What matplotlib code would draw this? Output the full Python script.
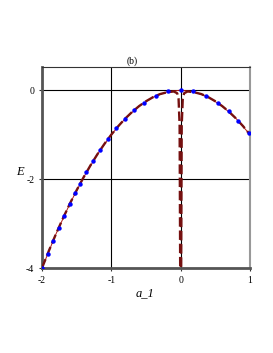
import matplotlib
matplotlib.use("Agg")
import matplotlib.pyplot as plt

# solid parabola (red)
solid_a = [-2.0, -1.8, -1.6, -1.4, -1.2, -1.0, -0.8, -0.6, -0.4, -0.2, 0.0,
           0.2, 0.4, 0.6, 0.8, 1.0]
solid_E = [-4.0, -3.24, -2.56, -1.96, -1.44, -1.0, -0.64, -0.36, -0.16, -0.04, 0.0,
           -0.04, -0.16, -0.36, -0.64, -1.0]

# dashed curve with the spike at a_1 = 0 (dark red)
dash_a = [-2.0, -1.9, -1.8, -1.7, -1.6, -1.5, -1.4, -1.3, -1.2, -1.1, -1.0,
          -0.9, -0.8, -0.7, -0.6, -0.5, -0.4, -0.3, -0.2, -0.1, -0.05, -0.03,
          -0.015, -0.007, 0.007, 0.015, 0.03, 0.05, 0.1, 0.2, 0.3, 0.4, 0.5,
          0.6, 0.7, 0.8, 0.9, 1.0]
dash_E = [-4.0, -3.61, -3.24, -2.89, -2.56, -2.25, -1.96, -1.69, -1.44, -1.21, -1.0,
          -0.81, -0.64, -0.49, -0.36, -0.25, -0.16, -0.09, -0.05, -0.03, -0.07, -0.2,
          -0.8, -4.0, -4.0, -0.8, -0.2, -0.07, -0.03, -0.05, -0.09, -0.16, -0.25,
          -0.36, -0.49, -0.64, -0.81, -1.0]

# blue sample points
pts_a = [-2.0, -1.92, -1.84, -1.76, -1.68, -1.60, -1.52, -1.45, -1.36, -1.26,
         -1.16, -1.05, -0.93, -0.81, -0.67, -0.53, -0.36, -0.18, 0.0, 0.18,
         0.37, 0.54, 0.69, 0.83, 0.98]
pts_E = [-4.0, -3.69, -3.39, -3.10, -2.82, -2.56, -2.31, -2.10, -1.85, -1.59,
         -1.35, -1.10, -0.86, -0.66, -0.45, -0.28, -0.13, -0.03, 0.0, -0.03,
         -0.14, -0.29, -0.48, -0.69, -0.96]

x_ticks = [-2, -1, 0, 1]
y_ticks = [0, -2, -4]

fig = plt.figure(figsize=(2.73, 3.53), dpi=100)
ax = fig.add_axes([42 / 273, 85 / 353, 208 / 273, 201 / 353])

ax.plot(solid_a, solid_E, color="#b01818", lw=0.7, zorder=2)
ax.plot(dash_a, dash_E, color="#761010", lw=1.7, dashes=(4, 1.6), zorder=3)
ax.plot(pts_a, pts_E, "o", color="#0000ff", ms=3.2, mec="none", zorder=4)

ax.set_xlim(-2, 1)
ax.set_ylim(-4, 0.52)
ax.set_xticks(x_ticks)
ax.set_yticks(y_ticks)
ax.set_xticklabels(["-2", "-1", "0", "1"], family="Liberation Serif", fontsize=7)
ax.set_yticklabels(["0", "-2", "-4"], family="Liberation Serif", fontsize=7)
ax.tick_params(length=2.5, width=0.8, pad=3, color="#333333")
ax.grid(True, color="black", lw=0.8)
ax.set_axisbelow(True)

for side in ["left", "bottom"]:
    ax.spines[side].set_linewidth(2.0)
    ax.spines[side].set_color("#555555")
ax.spines["right"].set_linewidth(1.5)
ax.spines["right"].set_color("#999999")
ax.spines["top"].set_linewidth(0.8)
ax.spines["top"].set_color("#333333")

ax.text(0.433, 1.005, "(b)", transform=ax.transAxes, ha="center", va="bottom",
        family="Liberation Serif", fontsize=7)
fig.text(20 / 273, 1 - 172 / 353, "E", family="Liberation Serif", style="italic",
         fontsize=9, ha="center", va="center")
fig.text(145 / 273, 1 - 293 / 353, "a_1", family="Liberation Serif", style="italic",
         fontsize=9, ha="center", va="center")

fig.savefig("out.png", dpi=100)
